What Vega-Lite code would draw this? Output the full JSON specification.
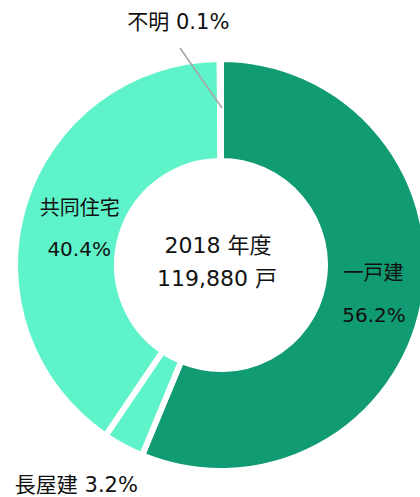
{
  "$schema": "https://vega.github.io/schema/vega-lite/v6.json",
  "width": 398,
  "height": 464,
  "padding": {"left": 22, "top": 33, "right": 0, "bottom": 0},
  "autosize": {"type": "none"},
  "background": "white",
  "config": {
    "view": {"stroke": null},
    "text": {"font": "DejaVu Sans, Noto Sans CJK JP", "fill": "#111111", "baseline": "middle", "align": "center"}
  },
  "datasets": {
    "shares": [
      {"name": "一戸建", "share": 0.562, "ord": 1},
      {"name": "長屋建", "share": 0.032, "ord": 2},
      {"name": "共同住宅", "share": 0.404, "ord": 3},
      {"name": "不明", "share": 0.001, "ord": 4}
    ],
    "total": [{"year": "2018 年度", "houses": "119,880 戸"}],
    "leader": [{"x": -41, "y": 217, "x2": 1, "y2": 157}]
  },
  "layer": [
    {
      "data": {"name": "shares"},
      "mark": {"type": "arc", "outerRadius": 206, "innerRadius": 104, "stroke": "white", "strokeWidth": 6},
      "encoding": {
        "theta": {"field": "share", "type": "quantitative", "stack": true},
        "order": {"field": "ord", "type": "quantitative"},
        "color": {
          "field": "name", "type": "nominal",
          "scale": {"domain": ["一戸建", "長屋建", "共同住宅", "不明"], "range": ["#119B73", "#5FF3CA", "#5FF3CA", "#BBBBBB"]},
          "legend": null
        }
      }
    },
    {
      "data": {"name": "leader"},
      "mark": {"type": "rule", "color": "#A6A6A6", "strokeWidth": 1.6},
      "encoding": {
        "x": {"field": "x", "type": "quantitative", "scale": {"domain": [-199, 199], "nice": false, "zero": false}, "axis": null},
        "y": {"field": "y", "type": "quantitative", "scale": {"domain": [-232, 232], "nice": false, "zero": false}, "axis": null},
        "x2": {"field": "x2"},
        "y2": {"field": "y2"}
      }
    },
    {
      "data": {"name": "shares"},
      "mark": {"type": "text", "radius": 155, "fontSize": 20, "dx": 0.5, "dy": -21},
      "encoding": {
        "theta": {"field": "share", "type": "quantitative", "stack": true},
        "order": {"field": "ord", "type": "quantitative"},
        "text": {"condition": {"test": "datum.name === '一戸建'", "field": "name"}, "value": ""}
      }
    },
    {
      "data": {"name": "shares"},
      "mark": {"type": "text", "radius": 155, "fontSize": 20, "dx": 1, "dy": 21},
      "encoding": {
        "theta": {"field": "share", "type": "quantitative", "stack": true},
        "order": {"field": "ord", "type": "quantitative"},
        "text": {"condition": {"test": "datum.name === '一戸建'", "field": "share", "format": ".1%"}, "value": ""}
      }
    },
    {
      "data": {"name": "shares"},
      "mark": {"type": "text", "radius": 155, "fontSize": 20, "dx": 7, "dy": -11.5},
      "encoding": {
        "theta": {"field": "share", "type": "quantitative", "stack": true},
        "order": {"field": "ord", "type": "quantitative"},
        "text": {"condition": {"test": "datum.name === '共同住宅'", "field": "name"}, "value": ""}
      }
    },
    {
      "data": {"name": "shares"},
      "mark": {"type": "text", "radius": 155, "fontSize": 20, "dx": 6.5, "dy": 29.5},
      "encoding": {
        "theta": {"field": "share", "type": "quantitative", "stack": true},
        "order": {"field": "ord", "type": "quantitative"},
        "text": {"condition": {"test": "datum.name === '共同住宅'", "field": "share", "format": ".1%"}, "value": ""}
      }
    },
    {
      "data": {"name": "shares"},
      "mark": {"type": "text", "radius": 206, "fontSize": 21, "dx": -47, "dy": 39.5, "text": {"expr": "datum.name + ' ' + format(datum.share, '.1%')"}},
      "encoding": {
        "theta": {"field": "share", "type": "quantitative", "stack": true},
        "order": {"field": "ord", "type": "quantitative"},
        "opacity": {"condition": {"test": "datum.name === '長屋建'", "value": 1}, "value": 0}
      }
    },
    {
      "data": {"name": "shares"},
      "mark": {"type": "text", "radius": 206, "fontSize": 21, "dx": -42, "dy": -36.5, "text": {"expr": "datum.name + ' ' + format(datum.share, '.1%')"}},
      "encoding": {
        "theta": {"field": "share", "type": "quantitative", "stack": true},
        "order": {"field": "ord", "type": "quantitative"},
        "opacity": {"condition": {"test": "datum.name === '不明'", "value": 1}, "value": 0}
      }
    },
    {
      "data": {"name": "total"},
      "mark": {"type": "text", "fontSize": 22, "dx": -3, "dy": -19.5},
      "encoding": {"text": {"field": "year"}}
    },
    {
      "data": {"name": "total"},
      "mark": {"type": "text", "fontSize": 22, "dx": -4, "dy": 13.5},
      "encoding": {"text": {"field": "houses"}}
    }
  ]
}
